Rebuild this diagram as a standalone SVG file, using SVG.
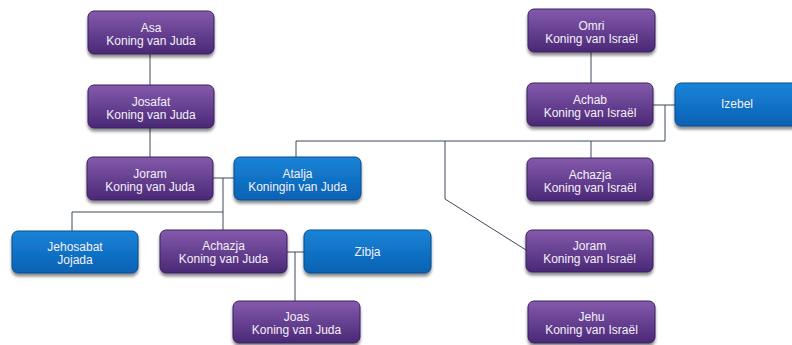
<svg xmlns="http://www.w3.org/2000/svg" width="792" height="345" viewBox="0 0 792 345">
<defs>
<linearGradient id="gp" x1="0" y1="0" x2="0" y2="1">
<stop offset="0" stop-color="#845aac"/>
<stop offset="1" stop-color="#4a2876"/>
</linearGradient>
<linearGradient id="gb" x1="0" y1="0" x2="0" y2="1">
<stop offset="0" stop-color="#1a84d8"/>
<stop offset="1" stop-color="#0861b3"/>
</linearGradient>
<filter id="sh" x="-10%" y="-10%" width="120%" height="140%">
<feGaussianBlur in="SourceAlpha" stdDeviation="1.5"/>
<feOffset dx="0" dy="2.5" result="b"/>
<feComponentTransfer><feFuncA type="linear" slope="0.45"/></feComponentTransfer>
<feMerge><feMergeNode/><feMergeNode in="SourceGraphic"/></feMerge>
</filter>
</defs>
<style>
.p{fill:url(#gp);stroke:#3a2060;stroke-width:1;filter:url(#sh)}
.b{fill:url(#gb);stroke:#0a4a8a;stroke-width:1;filter:url(#sh)}
text{font-family:"Liberation Sans",Arial,sans-serif;font-size:12px;fill:#f4f0f8;text-anchor:middle}
.c{fill:none;stroke:#3c4a5a;stroke-width:1}
</style>
<rect width="792" height="345" fill="#ffffff"/>
<g id="connectors">
<line class="c" x1="150" y1="54" x2="150" y2="85"/>
<line class="c" x1="150" y1="128" x2="150" y2="157"/>
<line class="c" x1="591" y1="52" x2="591" y2="83"/>
<line class="c" x1="653" y1="105" x2="675" y2="105"/>
<polyline class="c" points="665,105 665,141 296,141 296,157"/>
<line class="c" x1="591" y1="141" x2="591" y2="158"/>
<polyline class="c" points="445,141 445,199 526,250"/>
<line class="c" x1="213" y1="178" x2="234" y2="178"/>
<line class="c" x1="223" y1="178" x2="223" y2="230"/>
<polyline class="c" points="223,212 72,212 72,231"/>
<line class="c" x1="287" y1="252" x2="304" y2="252"/>
<line class="c" x1="295" y1="252" x2="295" y2="301"/>
</g>
<g id="asa"><rect class="p" x="88" y="11" width="126" height="43" rx="6"/><text x="151" y="32">Asa</text><text x="151" y="45">Koning van Juda</text></g>
<g id="josafat"><rect class="p" x="88" y="85" width="126" height="43" rx="6"/><text x="151" y="106">Josafat</text><text x="151" y="119">Koning van Juda</text></g>
<g id="joram-juda"><rect class="p" x="87" y="157" width="126" height="43" rx="6"/><text x="150" y="178">Joram</text><text x="150" y="191">Koning van Juda</text></g>
<g id="atalja"><rect class="b" x="234" y="157" width="127" height="43" rx="6"/><text x="297.5" y="178">Atalja</text><text x="297.5" y="191">Koningin van Juda</text></g>
<g id="jehosabat"><rect class="b" x="12" y="231" width="126" height="42" rx="6"/><text x="75" y="251">Jehosabat</text><text x="75" y="264">Jojada</text></g>
<g id="achazja-juda"><rect class="p" x="160" y="230" width="127" height="43" rx="6"/><text x="223.5" y="250">Achazja</text><text x="223.5" y="263">Koning van Juda</text></g>
<g id="zibja"><rect class="b" x="304" y="230" width="127" height="43" rx="6"/><text x="367.5" y="256">Zibja</text></g>
<g id="joas"><rect class="p" x="233" y="301" width="127" height="42" rx="6"/><text x="296.5" y="321">Joas</text><text x="296.5" y="334">Koning van Juda</text></g>
<g id="omri"><rect class="p" x="528" y="9" width="127" height="43" rx="6"/><text x="591.5" y="30">Omri</text><text x="591.5" y="43">Koning van Israël</text></g>
<g id="achab"><rect class="p" x="527" y="83" width="126" height="43" rx="6"/><text x="590" y="104">Achab</text><text x="590" y="117">Koning van Israël</text></g>
<g id="izebel"><rect class="b" x="675" y="83" width="124" height="43" rx="6"/><text x="737" y="108">Izebel</text></g>
<g id="achazja-israel"><rect class="p" x="527" y="158" width="126" height="43" rx="6"/><text x="590" y="179">Achazja</text><text x="590" y="192">Koning van Israël</text></g>
<g id="joram-israel"><rect class="p" x="526" y="230" width="127" height="42" rx="6"/><text x="589.5" y="250">Joram</text><text x="589.5" y="263">Koning van Israël</text></g>
<g id="jehu"><rect class="p" x="528" y="301" width="127" height="42" rx="6"/><text x="591.5" y="321">Jehu</text><text x="591.5" y="334">Koning van Israël</text></g>
</svg>
